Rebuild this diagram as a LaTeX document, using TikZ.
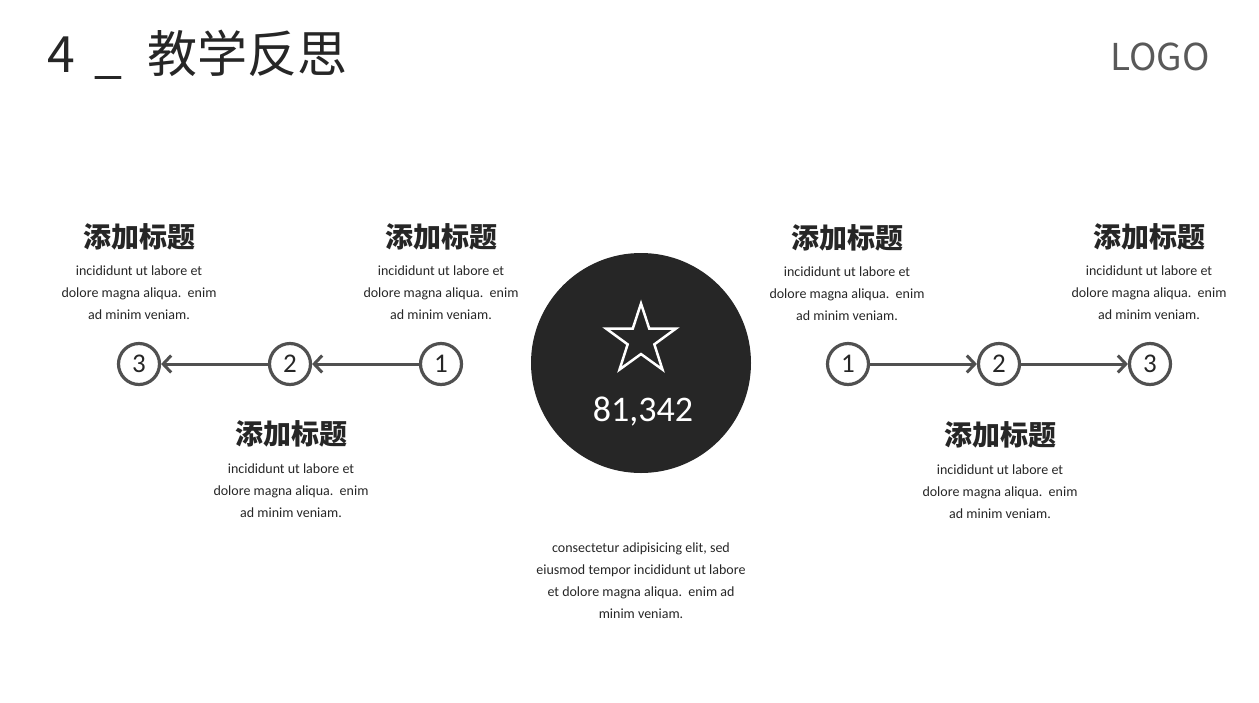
\documentclass[tikz,border=0pt]{standalone}
\usepackage{fontspec}
\setmainfont{Carlito}
\newfontfamily\cjk{Noto Sans CJK SC}
\usetikzlibrary{arrows.meta,shapes.geometric,positioning}

\definecolor{inkdark}{HTML}{262626}
\definecolor{ringgray}{HTML}{505050}
\definecolor{logogray}{HTML}{595959}

\tikzset{
  ring/.style = {circle, draw=ringgray, line width=3.2pt, minimum size=41pt, inner sep=0pt,
                 fill=white, text=inkdark, font=\fontsize{27}{27}\selectfont},
  link/.style = {draw=ringgray, line width=3pt, -{Straight Barb[length=8pt,width=17pt]}},
  headtxt/.style = {inner sep=0pt, text=inkdark, font=\cjk\bfseries\fontsize{28}{28}\selectfont},
  bodytxt/.style = {inner sep=0pt, align=center, text=inkdark, font=\fontsize{14}{22}\selectfont}
}

\begin{document}
\begin{tikzpicture}[x=1pt, y=-1pt]
  \useasboundingbox (0,0) rectangle (1259,702);

  % title and logo
  \node[anchor=base west, inner sep=0pt, text=inkdark, font=\cjk\fontsize{50}{50}\selectfont] (num) at (47,72) {4};
  \node[anchor=base west, inner sep=0pt, text=inkdark, font=\cjk\fontsize{50}{50}\selectfont] (bar) at (94,72) {\_};
  \node[anchor=base west, inner sep=0pt, text=inkdark, font=\cjk\fontsize{50}{50}\selectfont] (title) at (147,72) {教学反思};
  \node[anchor=base east, inner sep=0pt, text=logogray, font=\cjk\fontsize{37}{37}\selectfont] (logo) at (1210,70) {LOGO};

  % centre disc
  \node[circle, fill=inkdark, minimum size=220pt, inner sep=0pt] (hub) at (641,363) {};
  \node[star, star points=5, star point ratio=2.6, minimum size=73pt, inner sep=0pt,
        draw=white, line width=2.5pt] (star) at (641,340) {};
  \node[inner sep=0pt, text=white, font=\fontsize{36}{36}\selectfont] (count) at (643,411) {81,342};
  \node[bodytxt] (note) at (641,581) {consectetur adipisicing elit, sed\\eiusmod tempor incididunt ut labore\\et dolore magna aliqua.\ \ enim ad\\minim veniam.};

  % left chain
  \node[ring] (l1) at (441,364) {1};
  \node[ring] (l2) at (290,364) {2};
  \node[ring] (l3) at (139,364) {3};
  \draw[link] (l1) -- (l2);
  \draw[link] (l2) -- (l3);

  \node[headtxt] (lh3) at (139,237) {添加标题};
  \node[bodytxt] (lb3) at (139,293) {incididunt ut labore et\\dolore magna aliqua.\ \ enim\\ad minim veniam.};
  \node[headtxt] (lh1) at (441,237) {添加标题};
  \node[bodytxt] (lb1) at (441,293) {incididunt ut labore et\\dolore magna aliqua.\ \ enim\\ad minim veniam.};
  \node[headtxt] (lh2) at (291,434) {添加标题};
  \node[bodytxt] (lb2) at (291,491) {incididunt ut labore et\\dolore magna aliqua.\ \ enim\\ad minim veniam.};

  % right chain
  \node[ring] (r1) at (848,364) {1};
  \node[ring] (r2) at (999,364) {2};
  \node[ring] (r3) at (1150,364) {3};
  \draw[link] (r1) -- (r2);
  \draw[link] (r2) -- (r3);

  \node[headtxt] (rh1) at (847,238) {添加标题};
  \node[bodytxt] (rb1) at (847,294) {incididunt ut labore et\\dolore magna aliqua.\ \ enim\\ad minim veniam.};
  \node[headtxt] (rh3) at (1149,237) {添加标题};
  \node[bodytxt] (rb3) at (1149,293) {incididunt ut labore et\\dolore magna aliqua.\ \ enim\\ad minim veniam.};
  \node[headtxt] (rh2) at (1000,435) {添加标题};
  \node[bodytxt] (rb2) at (1000,492) {incididunt ut labore et\\dolore magna aliqua.\ \ enim\\ad minim veniam.};
\end{tikzpicture}
\end{document}
